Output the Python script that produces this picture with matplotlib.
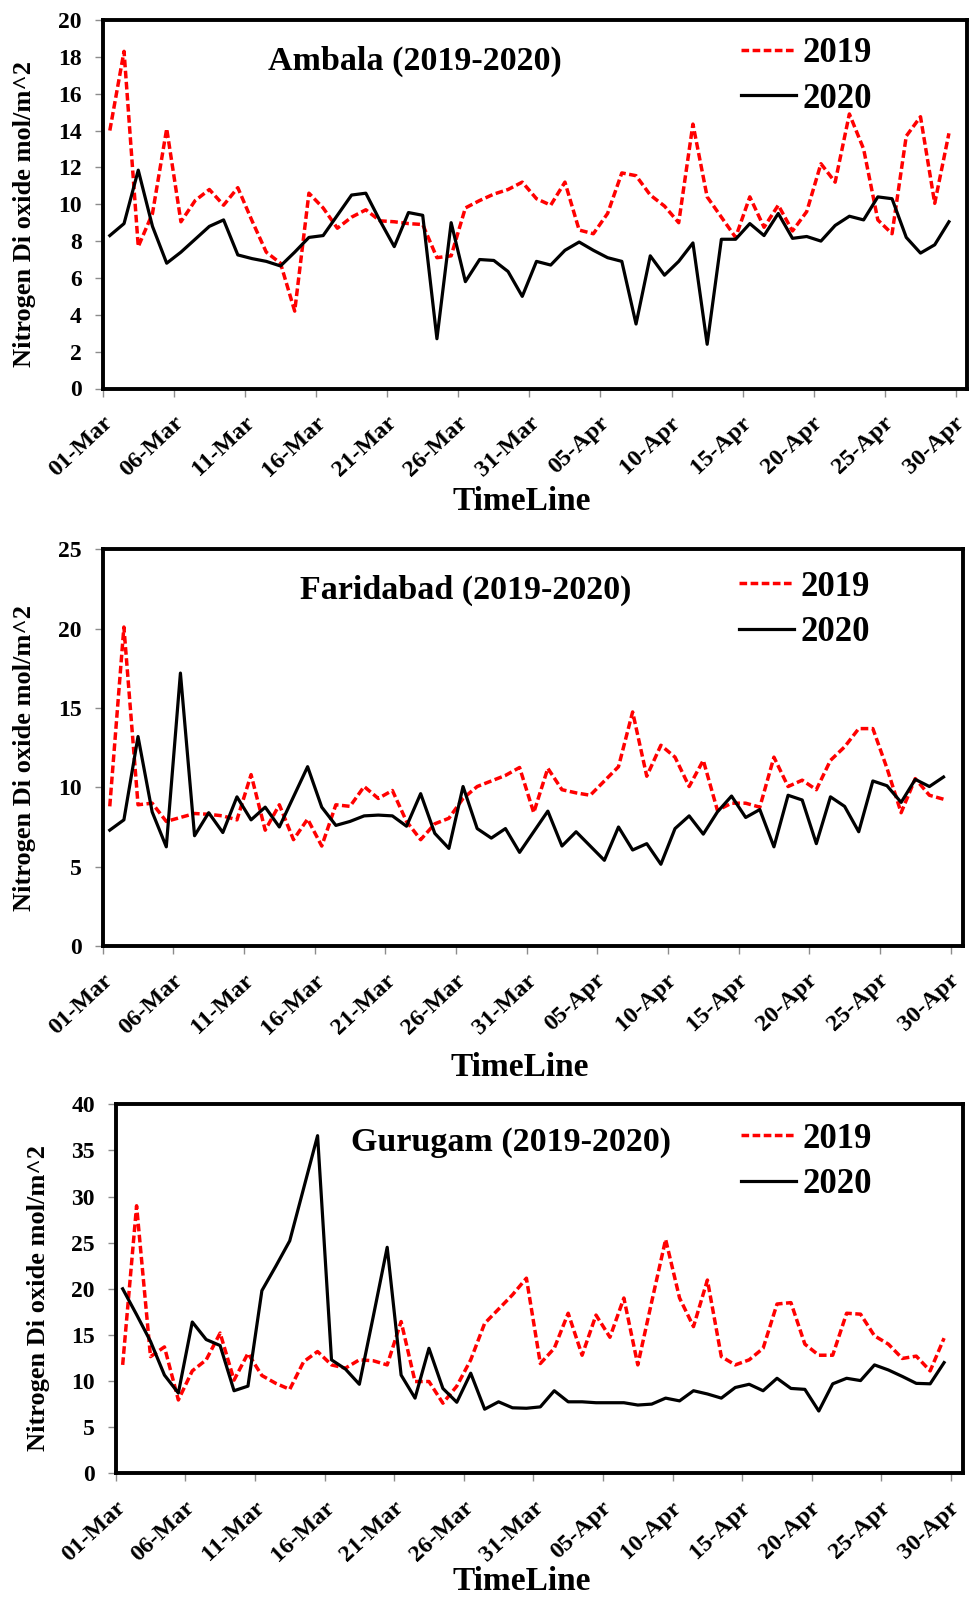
import matplotlib
matplotlib.use("Agg")
import matplotlib.pyplot as plt
import matplotlib.transforms as mtransforms
import numpy as np

plt.rcParams["font.family"] = ["Liberation Serif", "DejaVu Serif"]
plt.rcParams["font.weight"] = "bold"

# ---- data: daily NO2 column, Mar 1 .. Apr 29 ----
tick_days = list(range(0, 61, 5))
tick_labels = ["01-Mar", "06-Mar", "11-Mar", "16-Mar", "21-Mar", "26-Mar", "31-Mar",
               "05-Apr", "10-Apr", "15-Apr", "20-Apr", "25-Apr", "30-Apr"]
series_names = ["2019", "2020"]

ambala_2019 = [14.0, 18.3, 7.7, 9.5, 14.1, 9.05, 10.2, 10.8, 9.95, 10.9,
               9.1, 7.4, 6.8, 4.2, 10.6, 9.8, 8.7, 9.3, 9.7, 9.1,
               9.05, 8.95, 8.9, 7.1, 7.2, 9.8, 10.2, 10.55, 10.8, 11.2,
               10.3, 9.95, 11.2, 8.6, 8.4, 9.5, 11.7, 11.55, 10.5, 9.9,
               9.0, 14.35, 10.4, 9.3, 8.2, 10.4, 8.75, 9.95, 8.55, 9.6,
               12.2, 11.2, 14.9, 13.0, 9.15, 8.4, 13.7, 14.75, 10.05, 13.85]
ambala_2020 = [8.3, 8.95, 11.85, 8.8, 6.8, 7.4, 8.1, 8.8, 9.15, 7.25,
               7.05, 6.9, 6.65, 7.4, 8.2, 8.3, 9.4, 10.5, 10.6, 9.1,
               7.7, 9.55, 9.4, 2.7, 9.0, 5.8, 7.0, 6.95, 6.35, 5.0,
               6.9, 6.7, 7.5, 7.95, 7.5, 7.1, 6.9, 3.5, 7.2, 6.15,
               6.9, 7.9, 2.4, 8.1, 8.1, 8.95, 8.3, 9.5, 8.15, 8.25,
               8.0, 8.85, 9.35, 9.15, 10.4, 10.3, 8.2, 7.35, 7.8, 9.05]

faridabad_2019 = [8.8, 20.1, 8.9, 9.0, 7.85, 8.1, 8.35, 8.3, 8.2, 7.95,
                  10.8, 7.3, 8.9, 6.7, 8.0, 6.3, 8.9, 8.8, 10.05, 9.3,
                  9.8, 7.85, 6.7, 7.7, 8.05, 9.3, 10.05, 10.4, 10.75, 11.25,
                  8.4, 11.2, 9.85, 9.65, 9.5, 10.4, 11.3, 14.75, 10.7, 12.65,
                  11.9, 10.05, 11.7, 8.55, 9.0, 9.0, 8.75, 11.9, 10.05, 10.45,
                  9.85, 11.7, 12.55, 13.7, 13.7, 11.2, 8.4, 10.55, 9.5, 9.25]
faridabad_2020 = [7.3, 7.95, 13.2, 8.45, 6.25, 17.2, 6.95, 8.4, 7.15, 9.4,
                  7.95, 8.75, 7.5, 9.4, 11.3, 8.75, 7.6, 7.85, 8.2, 8.25,
                  8.2, 7.55, 9.6, 7.1, 6.15, 10.05, 7.4, 6.8, 7.4, 5.9,
                  7.2, 8.5, 6.3, 7.2, 6.3, 5.4, 7.5, 6.05, 6.45, 5.15,
                  7.4, 8.2, 7.05, 8.45, 9.45, 8.1, 8.6, 6.25, 9.5, 9.2,
                  6.45, 9.4, 8.8, 7.2, 10.4, 10.1, 9.05, 10.5, 10.05, 10.65]

gurugam_2019 = [11.75, 29.0, 12.65, 13.7, 7.95, 11.1, 12.3, 15.2, 10.1, 13.0,
                10.6, 9.75, 9.1, 12.1, 13.2, 11.75, 11.4, 12.3, 12.2, 11.75,
                16.45, 9.95, 9.95, 7.6, 9.45, 12.3, 16.25, 17.8, 19.35, 21.15,
                11.9, 13.55, 17.35, 12.8, 17.15, 14.75, 19.0, 11.75, 18.6, 25.35,
                19.0, 15.9, 20.95, 12.65, 11.75, 12.3, 13.55, 18.35, 18.5, 14.0,
                12.8, 12.8, 17.35, 17.25, 14.9, 14.0, 12.45, 12.7, 11.1, 14.65]
gurugam_2020 = [20.0, 17.2, 14.3, 10.65, 8.7, 16.4, 14.5, 13.85, 8.95, 9.45,
                19.8, 22.45, 25.2, 30.9, 36.6, 12.3, 11.3, 9.65, 17.0, 24.5,
                10.65, 8.15, 13.55, 9.2, 7.7, 10.85, 6.95, 7.75, 7.1, 7.05,
                7.2, 8.95, 7.75, 7.75, 7.65, 7.65, 7.65, 7.4, 7.5, 8.15,
                7.85, 8.95, 8.6, 8.15, 9.3, 9.65, 8.95, 10.3, 9.2, 9.1,
                6.75, 9.7, 10.3, 10.05, 11.75, 11.2, 10.5, 9.75, 9.7, 12.0]

# ---- layout (pixels on a 970 x 1597 canvas) ----
W, H = 970, 1597
panels = [
    dict(title="Ambala (2019-2020)", data=(ambala_2019, ambala_2020),
         ymax=20, ystep=2, box=(102.7, 20.0, 967.0, 388.5), xmax=60.77,
         title_xy=(415, 61), leg_xy=(741.5, 37), ylab_xy=(25, 214), xlab_xy=(522, 501)),
    dict(title="Faridabad (2019-2020)", data=(faridabad_2019, faridabad_2020),
         ymax=25, ystep=5, box=(102.7, 549.3, 963.3, 946.0), xmax=60.9,
         title_xy=(466, 590), leg_xy=(739.5, 570.5), ylab_xy=(25, 758), xlab_xy=(520, 1068)),
    dict(title="Gurugam (2019-2020)", data=(gurugam_2019, gurugam_2020),
         ymax=40, ystep=5, box=(115.7, 1104.3, 963.3, 1473.3), xmax=60.88,
         title_xy=(511, 1143), leg_xy=(741.5, 1122.5), ylab_xy=(39, 1298), xlab_xy=(522, 1582)),
]

fig = plt.figure(figsize=(W / 100, H / 100), dpi=100)


def fx(px):
    return px / W


def fy(py):
    return 1 - py / H


for p in panels:
    l, t, r, b = p["box"]
    ax = fig.add_axes([fx(l), fy(b), (r - l) / W, (b - t) / H])
    y19, y20 = p["data"]
    x19 = np.arange(len(y19)) + 0.5
    x20 = np.arange(len(y20)) + 0.5
    ax.plot(x19, y19, color="#ff0000", lw=2.5, dashes=(2.2, 1.0),
            label=series_names[0])
    ax.plot(x20, y20, color="black", lw=2.3, label=series_names[1])

    ax.set_xlim(0, p["xmax"])
    ax.set_ylim(0, p["ymax"])
    ax.set_yticks(np.arange(0, p["ymax"] + 0.1, p["ystep"]))
    ax.set_xticks(tick_days)

    ax.tick_params(axis="both", direction="out", length=6, width=1.0,
                   color="#8c8c8c")
    ax.tick_params(axis="y", pad=9)
    ax.tick_params(axis="x", pad=11)

    ax.set_xticklabels(tick_labels, rotation=43, ha="center", va="top",
                       rotation_mode="default", fontsize=17.5, fontweight="bold")
    # rotated date labels sit a little to the left of their tick
    offset = mtransforms.ScaledTranslation(-22 / 100, 0, fig.dpi_scale_trans)
    for lab in ax.get_xticklabels():
        lab.set_transform(lab.get_transform() + offset)
    for lab in ax.get_yticklabels():
        lab.set_fontsize(17)
        lab.set_fontweight("bold")

    for s in ax.spines.values():
        s.set_linewidth(2.8)
        s.set_color("black")

    fig.text(fx(p["title_xy"][0]), fy(p["title_xy"][1]), p["title"],
             ha="center", va="center", fontsize=24.5, fontweight="bold")
    fig.text(fx(p["ylab_xy"][0]), fy(p["ylab_xy"][1]), "Nitrogen Di oxide mol/m^2",
             rotation=90, ha="center", va="center", fontsize=19, fontweight="bold")
    fig.text(fx(p["xlab_xy"][0]), fy(p["xlab_xy"][1]), "TimeLine",
             ha="center", va="center", fontsize=24, fontweight="bold")

    ax.legend(loc="upper left", bbox_to_anchor=(fx(p["leg_xy"][0]), fy(p["leg_xy"][1])),
              bbox_transform=fig.transFigure, frameon=False,
              prop=dict(size=25, weight="bold"), handlelength=1.58,
              handletextpad=0.17, labelspacing=0.36, borderpad=0, borderaxespad=0)

fig.savefig("out.png", dpi=100)
